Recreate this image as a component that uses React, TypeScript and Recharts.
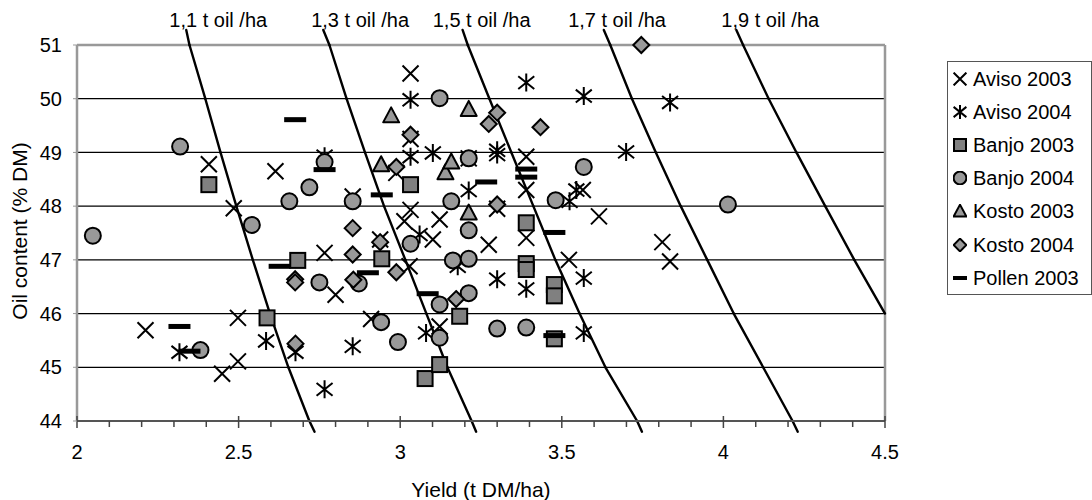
import React from "react";
import {
  ScatterChart,
  Scatter,
  XAxis,
  YAxis,
  CartesianGrid,
  ReferenceLine,
  ReferenceDot,
  Legend,
  Label,
} from "recharts";

type Pt = { x: number; y: number };

const FONT = "'Liberation Sans', Arial, sans-serif";

// tick values
const xTicks = [
  2, 2.1, 2.2, 2.3, 2.4, 2.5, 2.6, 2.7, 2.8, 2.9, 3, 3.1, 3.2, 3.3, 3.4, 3.5, 3.6, 3.7, 3.8, 3.9,
  4, 4.1, 4.2, 4.3, 4.4, 4.5,
];
const yTicks = [44, 45, 46, 47, 48, 49, 50, 51];

// measured points
const aviso2003: Pt[] = [
  { x: 2.212, y: 45.69 }, { x: 2.408, y: 48.78 }, { x: 2.449, y: 44.88 }, { x: 2.485, y: 47.96 },
  { x: 2.498, y: 45.92 }, { x: 2.498, y: 45.11 }, { x: 2.614, y: 48.65 }, { x: 2.766, y: 47.13 },
  { x: 2.8, y: 46.35 }, { x: 2.853, y: 48.18 }, { x: 2.91, y: 45.9 }, { x: 2.938, y: 47.38 },
  { x: 2.988, y: 48.62 }, { x: 3.013, y: 47.72 }, { x: 3.029, y: 46.88 }, { x: 3.032, y: 50.47 },
  { x: 3.032, y: 49.25 }, { x: 3.032, y: 47.93 }, { x: 3.101, y: 47.38 }, { x: 3.122, y: 47.75 },
  { x: 3.122, y: 45.76 }, { x: 3.212, y: 48.89 }, { x: 3.274, y: 47.28 }, { x: 3.3, y: 47.95 },
  { x: 3.39, y: 48.92 }, { x: 3.39, y: 48.3 }, { x: 3.39, y: 47.41 }, { x: 3.522, y: 47.0 },
  { x: 3.565, y: 48.3 }, { x: 3.615, y: 47.81 }, { x: 3.811, y: 47.33 }, { x: 3.835, y: 46.97 },
];
const aviso2004: Pt[] = [
  { x: 2.317, y: 45.28 }, { x: 2.585, y: 45.49 }, { x: 2.676, y: 45.28 }, { x: 2.766, y: 44.59 },
  { x: 2.766, y: 48.93 }, { x: 2.853, y: 45.39 }, { x: 3.032, y: 49.98 }, { x: 3.032, y: 48.92 },
  { x: 3.101, y: 48.99 }, { x: 3.06, y: 47.47 }, { x: 3.08, y: 45.64 }, { x: 3.178, y: 46.88 },
  { x: 3.212, y: 48.29 }, { x: 3.3, y: 49.04 }, { x: 3.3, y: 48.96 }, { x: 3.3, y: 46.64 },
  { x: 3.39, y: 50.3 }, { x: 3.39, y: 46.46 }, { x: 3.545, y: 48.3 }, { x: 3.524, y: 48.09 },
  { x: 3.568, y: 50.05 }, { x: 3.568, y: 46.66 }, { x: 3.568, y: 45.64 }, { x: 3.699, y: 49.01 },
  { x: 3.835, y: 49.93 },
];
const banjo2003: Pt[] = [
  { x: 2.408, y: 48.4 }, { x: 2.588, y: 45.92 }, { x: 2.683, y: 46.99 }, { x: 2.943, y: 47.02 },
  { x: 3.032, y: 48.4 }, { x: 3.077, y: 44.79 }, { x: 3.122, y: 45.05 }, { x: 3.184, y: 45.95 },
  { x: 3.39, y: 47.69 }, { x: 3.39, y: 46.93 }, { x: 3.39, y: 46.82 }, { x: 3.477, y: 46.54 },
  { x: 3.477, y: 46.33 }, { x: 3.477, y: 45.53 },
];
const banjo2004: Pt[] = [
  { x: 2.049, y: 47.45 }, { x: 2.319, y: 49.11 }, { x: 2.382, y: 45.32 }, { x: 2.541, y: 47.65 },
  { x: 2.657, y: 48.09 }, { x: 2.719, y: 48.35 }, { x: 2.75, y: 46.58 }, { x: 2.766, y: 48.82 },
  { x: 2.853, y: 48.09 }, { x: 2.872, y: 46.56 }, { x: 2.941, y: 45.84 }, { x: 2.993, y: 45.47 },
  { x: 3.032, y: 47.3 }, { x: 3.122, y: 50.01 }, { x: 3.122, y: 46.17 }, { x: 3.122, y: 45.55 },
  { x: 3.158, y: 48.09 }, { x: 3.163, y: 46.99 }, { x: 3.212, y: 48.89 }, { x: 3.212, y: 47.55 },
  { x: 3.212, y: 47.02 }, { x: 3.212, y: 46.38 }, { x: 3.3, y: 45.72 }, { x: 3.39, y: 45.74 },
  { x: 3.481, y: 48.11 }, { x: 3.568, y: 48.73 }, { x: 4.014, y: 48.03 },
];
const kosto2003: Pt[] = [
  { x: 2.941, y: 48.78 }, { x: 2.972, y: 49.69 }, { x: 3.14, y: 48.63 }, { x: 3.158, y: 48.83 },
  { x: 3.212, y: 49.81 }, { x: 3.212, y: 47.88 },
];
const kosto2004: Pt[] = [
  { x: 2.675, y: 46.64 }, { x: 2.675, y: 46.58 }, { x: 2.676, y: 45.44 }, { x: 2.853, y: 47.59 },
  { x: 2.853, y: 47.1 }, { x: 2.855, y: 46.63 }, { x: 2.938, y: 47.33 }, { x: 2.988, y: 48.73 },
  { x: 2.988, y: 46.77 }, { x: 3.032, y: 49.33 }, { x: 3.173, y: 46.27 }, { x: 3.274, y: 49.53 },
  { x: 3.3, y: 49.74 }, { x: 3.3, y: 48.03 }, { x: 3.434, y: 49.47 }, { x: 3.746, y: 51.0 },
];
const pollen2003: Pt[] = [
  { x: 2.317, y: 45.76 }, { x: 2.348, y: 45.3 }, { x: 2.627, y: 46.88 }, { x: 2.675, y: 49.61 },
  { x: 2.766, y: 48.68 }, { x: 2.9, y: 46.76 }, { x: 2.943, y: 48.21 }, { x: 3.085, y: 46.37 },
  { x: 3.266, y: 48.45 }, { x: 3.39, y: 48.69 }, { x: 3.39, y: 48.54 }, { x: 3.477, y: 47.51 },
  { x: 3.477, y: 45.59 },
];

// iso oil-yield curves
const iso11: Pt[] = [
  { x: 2.338, y: 51.28 }, { x: 2.348, y: 51 }, { x: 2.397, y: 50 }, { x: 2.444, y: 49 },
  { x: 2.493, y: 48 }, { x: 2.544, y: 47 }, { x: 2.597, y: 46 }, { x: 2.654, y: 45 },
  { x: 2.719, y: 44 }, { x: 2.735, y: 43.8 },
];
const iso13: Pt[] = [
  { x: 2.762, y: 51.28 }, { x: 2.781, y: 51 }, { x: 2.834, y: 50 }, { x: 2.891, y: 49 },
  { x: 2.95, y: 48 }, { x: 3.016, y: 47 }, { x: 3.081, y: 46 }, { x: 3.146, y: 45 },
  { x: 3.221, y: 44 }, { x: 3.235, y: 43.8 },
];
const iso15: Pt[] = [
  { x: 3.193, y: 51.28 }, { x: 3.209, y: 51 }, { x: 3.276, y: 50 }, { x: 3.344, y: 49 },
  { x: 3.412, y: 48 }, { x: 3.48, y: 47 }, { x: 3.555, y: 46 }, { x: 3.635, y: 45 },
  { x: 3.733, y: 44 }, { x: 3.748, y: 43.8 },
];
const iso17: Pt[] = [
  { x: 3.63, y: 51.28 }, { x: 3.65, y: 51 }, { x: 3.717, y: 50 }, { x: 3.791, y: 49 },
  { x: 3.868, y: 48 }, { x: 3.95, y: 47 }, { x: 4.032, y: 46 }, { x: 4.123, y: 45 },
  { x: 4.214, y: 44 }, { x: 4.23, y: 43.8 },
];
const iso19: Pt[] = [
  { x: 4.04, y: 51.28 }, { x: 4.061, y: 51 }, { x: 4.14, y: 50 }, { x: 4.226, y: 49 },
  { x: 4.315, y: 48 }, { x: 4.405, y: 47 }, { x: 4.5, y: 46 },
];
const isoCurves = [iso11, iso13, iso15, iso17, iso19];
const isoLabels = ["1,1 t oil /ha", "1,3 t oil /ha", "1,5 t oil /ha", "1,7 t oil /ha", "1,9 t oil /ha"];
const isoLabelX = [2.437, 2.876, 3.252, 3.671, 4.145];
const ISO_LABEL_Y = 51.47;

type Kind = "x" | "star" | "square" | "circle" | "triangle" | "diamond" | "dash";

const markerOf: Record<string, Kind> = {
  "Aviso 2003": "x",
  "Aviso 2004": "star",
  "Banjo 2003": "square",
  "Banjo 2004": "circle",
  "Kosto 2003": "triangle",
  "Kosto 2004": "diamond",
  "Pollen 2003": "dash",
};

function Marker({ kind, cx, cy, s = 1, dashW = 22 }: { kind: Kind; cx: number; cy: number; s?: number; dashW?: number }) {
  const h = 8 * s;
  switch (kind) {
    case "x":
      return <path d={`M${cx - h},${cy - h}L${cx + h},${cy + h}M${cx - h},${cy + h}L${cx + h},${cy - h}`} stroke="#000" strokeWidth={2} />;
    case "star": {
      const v = 9 * s;
      return (
        <path
          d={`M${cx - h},${cy - h * 0.8}L${cx + h},${cy + h * 0.8}M${cx - h},${cy + h * 0.8}L${cx + h},${cy - h * 0.8}M${cx},${cy - v}L${cx},${cy + v}`}
          stroke="#000"
          strokeWidth={2}
        />
      );
    }
    case "square": {
      const a = 7.5 * s;
      return <rect x={cx - a} y={cy - a} width={2 * a} height={2 * a} fill="#808080" stroke="#000" strokeWidth={2} />;
    }
    case "circle":
      return <circle cx={cx} cy={cy} r={8 * s} fill="#999" stroke="#000" strokeWidth={2} />;
    case "triangle":
      return (
        <path d={`M${cx},${cy - h}L${cx + h},${cy + 7 * s}L${cx - h},${cy + 7 * s}Z`} fill="#999" stroke="#000" strokeWidth={2} strokeLinejoin="round" />
      );
    case "diamond":
      return <path d={`M${cx},${cy - h}L${cx + h},${cy}L${cx},${cy + h}L${cx - h},${cy}Z`} fill="#999" stroke="#000" strokeWidth={2} />;
    case "dash":
      return <rect x={cx - dashW / 2} y={cy - 2.5 * s} width={dashW} height={5 * s} fill="#000" />;
  }
  return null;
}

const shapeFor = (kind: Kind) => (p: any) => <Marker kind={kind} cx={p.cx} cy={p.cy} />;

const XTick = (props: any) => {
  const { x, y, payload } = props;
  const v = payload.value as number;
  const major = Math.abs(v * 2 - Math.round(v * 2)) < 1e-6;
  return (
    <g>
      <line x1={x} x2={x} y1={major ? y - 5 : y} y2={y + (major ? 7 : 6)} stroke="#444" strokeWidth={1.5} />
      {major && (
        <text x={x} y={y + 38} textAnchor="middle" fontSize={20} fill="#000">
          {v}
        </text>
      )}
    </g>
  );
};

const YTick = (props: any) => {
  const { x, y, payload } = props;
  return (
    <g>
      <line x1={x - 4} x2={x} y1={y} y2={y} stroke="#999" strokeWidth={1} />
      <text x={x - 15} y={y} dy="0.36em" textAnchor="end" fontSize={20} fill="#000">
        {payload.value}
      </text>
    </g>
  );
};

const LegendBox = (props: any) => {
  const payload = props.payload || [];
  return (
    <div
      style={{
        width: 145,
        height: 234,
        border: "1px solid #555",
        boxSizing: "border-box",
        background: "#fff",
        fontFamily: FONT,
        fontSize: 20,
        color: "#000",
      }}
    >
      {payload.map((e: any) => (
        <div key={e.value} style={{ height: 33.2, display: "flex", alignItems: "center", paddingLeft: 5, lineHeight: 1, whiteSpace: "nowrap" }}>
          <svg width={14} height={14} style={{ marginRight: 6, flex: "none" }}>
            <Marker kind={markerOf[e.value]} cx={7} cy={7} s={0.8} dashW={14} />
          </svg>
          {e.value}
        </div>
      ))}
    </div>
  );
};

export default function App() {
  return (
    <div style={{ position: "absolute", left: 0, top: 0, width: 1092, height: 500, background: "#fff", fontFamily: FONT }}>
      <ScatterChart width={1092} height={500} margin={{ top: 45, right: 207, bottom: 39, left: 17 }}>
        <CartesianGrid horizontal vertical={false} stroke="#000" strokeWidth={1.3} />
        <XAxis
          type="number"
          dataKey="x"
          domain={[2, 4.5]}
          ticks={xTicks}
          interval={0}
          height={40}
          tickSize={0}
          tickMargin={0}
          tickLine={false}
          axisLine={{ stroke: "#555", strokeWidth: 2 }}
          tick={XTick}
        >
          <Label
            content={(p: any) => {
              const vb = p.viewBox;
              return (
                <text x={vb.x + vb.width / 2} y={vb.y + 76} textAnchor="middle" fontSize={21} fill="#000">
                  Yield (t DM/ha)
                </text>
              );
            }}
          />
        </XAxis>
        <YAxis
          type="number"
          dataKey="y"
          domain={[44, 51]}
          ticks={yTicks}
          interval={0}
          width={60}
          tickSize={0}
          tickMargin={0}
          tickLine={false}
          axisLine={false}
          tick={YTick}
        >
          <Label
            content={(p: any) => {
              const vb = p.viewBox;
              const cx = vb.x + 10;
              const cy = vb.y + vb.height / 2 - 2;
              return (
                <text x={cx} y={cy} transform={`rotate(-90 ${cx} ${cy})`} textAnchor="middle" fontSize={21} fill="#000">
                  Oil content (% DM)
                </text>
              );
            }}
          />
        </YAxis>

        <ReferenceLine y={51} stroke="#999" strokeWidth={2.5} ifOverflow="visible" />
        <ReferenceLine x={2} stroke="#999" strokeWidth={2.5} ifOverflow="visible" />
        <ReferenceLine x={4.5} stroke="#999" strokeWidth={2.5} ifOverflow="visible" />

        {isoCurves.map((pts, ci) =>
          pts.slice(1).map((p, i) => (
            <ReferenceLine
              key={`iso-${ci}-${i}`}
              segment={[pts[i], p]}
              stroke="#000"
              strokeWidth={2.4}
              strokeLinecap="round"
              ifOverflow="visible"
            />
          ))
        )}
        {isoLabels.map((lab, i) => (
          <ReferenceDot
            key={lab}
            x={isoLabelX[i]}
            y={ISO_LABEL_Y}
            r={0}
            fill="none"
            stroke="none"
            ifOverflow="visible"
            label={{ value: lab, position: "center", fontSize: 20, fill: "#000" }}
          />
        ))}

        <Scatter name="Aviso 2003" data={aviso2003} shape={shapeFor("x")} isAnimationActive={false} />
        <Scatter name="Aviso 2004" data={aviso2004} shape={shapeFor("star")} isAnimationActive={false} />
        <Scatter name="Banjo 2003" data={banjo2003} shape={shapeFor("square")} isAnimationActive={false} />
        <Scatter name="Banjo 2004" data={banjo2004} shape={shapeFor("circle")} isAnimationActive={false} />
        <Scatter name="Kosto 2003" data={kosto2003} shape={shapeFor("triangle")} isAnimationActive={false} />
        <Scatter name="Kosto 2004" data={kosto2004} shape={shapeFor("diamond")} isAnimationActive={false} />
        <Scatter name="Pollen 2003" data={pollen2003} shape={shapeFor("dash")} isAnimationActive={false} />

        <Legend
          layout="vertical"
          align="center"
          verticalAlign="middle"
          content={LegendBox}
          wrapperStyle={{ left: 947, top: 61, width: 145, height: 234 }}
        />
      </ScatterChart>
    </div>
  );
}
